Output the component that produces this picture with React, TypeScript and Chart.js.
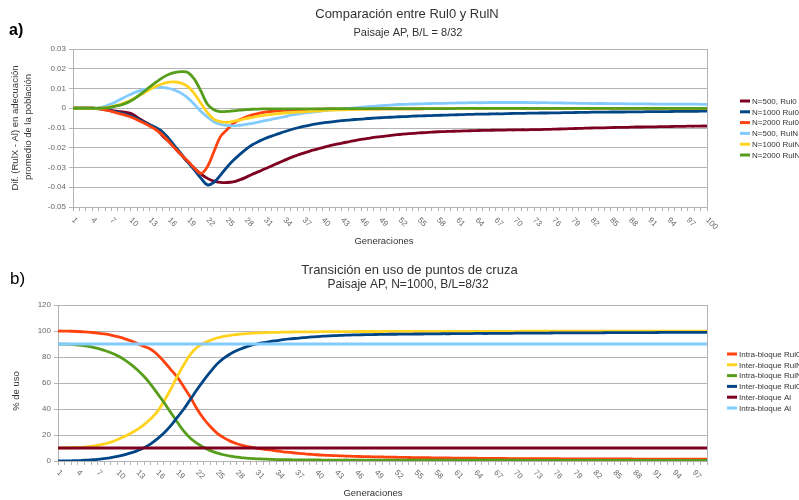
import React, { useEffect, useRef } from "react";
import { Chart, registerables } from "chart.js";

Chart.register(...registerables);

const FONT = "'Liberation Sans', Arial, sans-serif";
const GRID = "#b3b3b3";
const TICK_COLOR = "#666666";
const TEXT_COLOR = "#333333";

// ---- categories (generations) ----
const GENERATIONS_A = Array.from({ length: 100 }, (_, i) => String(i + 1));
const GENERATIONS_B = Array.from({ length: 99 }, (_, i) => String(i + 1));

// ---- panel a) ----
const A_LABELS = ["N=500, Rul0", "N=1000 Rul0", "N=2000 Rul0", "N=500, RulN", "N=1000 RulN", "N=2000 RulN"];
const A_COLORS = ["#7E0021", "#004586", "#FF420E", "#83CAFF", "#FFD320", "#579D1C"];

const A_N500_RUL0 = [
  0, 0, 0, 0, -0.0002, -0.0006, -0.0011, -0.0016, -0.002, -0.0026,
  -0.0045, -0.0065, -0.0085, -0.0105, -0.014, -0.017, -0.0205, -0.024, -0.0275, -0.0305,
  -0.0333, -0.0355, -0.0369, -0.0375, -0.0376, -0.0373, -0.0363, -0.035, -0.0334, -0.0321,
  -0.0306, -0.0292, -0.0278, -0.0264, -0.025, -0.0238, -0.0227, -0.0217, -0.0208, -0.0199,
  -0.019, -0.0183, -0.0176, -0.017, -0.0164, -0.0158, -0.0153, -0.0148, -0.0144, -0.014,
  -0.0136, -0.0133, -0.013, -0.0127, -0.0125, -0.0123, -0.0121, -0.0119, -0.0118, -0.0117,
  -0.0116, -0.0115, -0.0114, -0.0113, -0.0112, -0.0112, -0.0111, -0.0111, -0.011, -0.011,
  -0.0109, -0.0109, -0.0108, -0.0108, -0.0107, -0.0106, -0.0105, -0.0104, -0.0103, -0.0102,
  -0.0101, -0.01, -0.0099, -0.0099, -0.0098, -0.0097, -0.0097, -0.0096, -0.0095, -0.0095,
  -0.0094, -0.0094, -0.0093, -0.0093, -0.0092, -0.0092, -0.0091, -0.0091, -0.009, -0.009,
];
const A_N1000_RUL0 = [
  0, 0, 0, 0, -0.0002, -0.0007, -0.0013, -0.002, -0.0028, -0.0038,
  -0.0052, -0.0068, -0.0083, -0.0099, -0.012, -0.0155, -0.0195, -0.0235, -0.0275, -0.0315,
  -0.0355, -0.0388, -0.0375, -0.034, -0.03, -0.0265, -0.0235, -0.0208, -0.0185, -0.0168,
  -0.0153, -0.0141, -0.013, -0.0119, -0.0109, -0.01, -0.0092, -0.0085, -0.0079, -0.0074,
  -0.007, -0.0066, -0.0063, -0.006, -0.0057, -0.0055, -0.0052, -0.005, -0.0048, -0.0046,
  -0.0045, -0.0043, -0.0042, -0.004, -0.0039, -0.0038, -0.0037, -0.0036, -0.0035, -0.0034,
  -0.0033, -0.0032, -0.0031, -0.003, -0.003, -0.0029, -0.0028, -0.0028, -0.0027, -0.0026,
  -0.0026, -0.0025, -0.0025, -0.0024, -0.0024, -0.0023, -0.0023, -0.0022, -0.0022, -0.0021,
  -0.0021, -0.002, -0.002, -0.002, -0.0019, -0.0019, -0.0019, -0.0018, -0.0018, -0.0018,
  -0.0017, -0.0017, -0.0017, -0.0017, -0.0016, -0.0016, -0.0016, -0.0016, -0.0015, -0.0015,
];
const A_N2000_RUL0 = [
  0, 0, 0, 0, -0.0003, -0.0009, -0.0016, -0.0025, -0.0034, -0.0044,
  -0.0058, -0.0074, -0.0091, -0.011, -0.0135, -0.017, -0.0205, -0.0238, -0.027, -0.0305,
  -0.033, -0.0295, -0.022, -0.0145, -0.011, -0.0078, -0.0058, -0.0044, -0.0034, -0.0026,
  -0.002, -0.0016, -0.0013, -0.0011, -0.0009, -0.0008, -0.0007, -0.0006, -0.0005, -0.0005,
  -0.0004, -0.0004, -0.0004, -0.0004, -0.0004, -0.0003, -0.0003, -0.0003, -0.0003, -0.0003,
  -0.0003, -0.0003, -0.0003, -0.0003, -0.0003, -0.0002, -0.0002, -0.0002, -0.0002, -0.0002,
  -0.0002, -0.0002, -0.0002, -0.0002, -0.0002, -0.0002, -0.0002, -0.0002, -0.0002, -0.0002,
  -0.0001, -0.0001, -0.0001, -0.0001, -0.0001, -0.0001, -0.0001, -0.0001, -0.0001, -0.0001,
  -0.0001, -0.0001, -0.0001, -0.0001, -0.0001, -0.0001, -0.0001, -0.0001, -0.0001, -0.0001,
  -0.0001, -0.0001, -0.0001, -0.0001, -0.0001, -0.0001, -0.0001, -0.0001, -0.0001, -0.0001,
];
const A_N500_RULN = [
  0, 0, 0, 0, 0.0002, 0.001, 0.0022, 0.0038, 0.0055, 0.007,
  0.0084, 0.0094, 0.0101, 0.0105, 0.0105, 0.01, 0.009, 0.0074, 0.005, 0.0018,
  -0.0017, -0.0045, -0.0068, -0.0081, -0.0087, -0.0089, -0.0087, -0.0082, -0.0076, -0.007,
  -0.0063, -0.0056, -0.005, -0.0043, -0.0035, -0.003, -0.0025, -0.0021, -0.0017, -0.0013,
  -0.001, -0.0007, -0.0004, -0.0001, 0.0002, 0.0005, 0.0008, 0.001, 0.0013, 0.0015,
  0.0017, 0.0019, 0.002, 0.0021, 0.0022, 0.0023, 0.0024, 0.0025, 0.0025, 0.0026,
  0.0027, 0.0027, 0.0028, 0.0028, 0.0028, 0.0029, 0.0029, 0.0029, 0.0029, 0.0029,
  0.0029, 0.0029, 0.0028, 0.0028, 0.0028, 0.0027, 0.0027, 0.0026, 0.0026, 0.0025,
  0.0025, 0.0024, 0.0024, 0.0024, 0.0023, 0.0023, 0.0023, 0.0022, 0.0022, 0.0022,
  0.0022, 0.0021, 0.0021, 0.0021, 0.0021, 0.0021, 0.0021, 0.0021, 0.002, 0.002,
];
const A_N1000_RULN = [
  0, 0, 0, 0, 0, 0.0003, 0.0008, 0.0016, 0.0027, 0.0041,
  0.0058, 0.0076, 0.0095, 0.0112, 0.0124, 0.0132, 0.0133, 0.0126, 0.0108, 0.0072,
  0.0024, -0.0022, -0.0055, -0.0068, -0.0071, -0.0067, -0.006, -0.0052, -0.0046, -0.004,
  -0.0035, -0.0031, -0.0027, -0.0024, -0.0022, -0.002, -0.0018, -0.0016, -0.0014, -0.0012,
  -0.001, -0.0009, -0.0008, -0.0007, -0.0006, -0.0005, -0.0005, -0.0004, -0.0004, -0.0003,
  -0.0003, -0.0003, -0.0003, -0.0003, -0.0003, -0.0002, -0.0002, -0.0002, -0.0002, -0.0002,
  -0.0002, -0.0002, -0.0002, -0.0002, -0.0002, -0.0002, -0.0002, -0.0002, -0.0002, -0.0002,
  -0.0001, -0.0001, -0.0001, -0.0001, -0.0001, -0.0001, -0.0001, -0.0001, -0.0001, -0.0001,
  -0.0001, -0.0001, -0.0001, -0.0001, -0.0001, -0.0001, -0.0001, -0.0001, -0.0001, -0.0001,
  -0.0001, -0.0001, -0.0001, -0.0001, -0.0001, -0.0001, -0.0001, -0.0001, -0.0001, -0.0001,
];
const A_N2000_RULN = [
  0, 0, 0, 0, 0, 0.0002, 0.0006, 0.0013, 0.0022, 0.0037,
  0.0058, 0.0082, 0.0108, 0.0133, 0.0155, 0.0172, 0.0182, 0.0185, 0.018, 0.0145,
  0.0085, 0.002, -0.0008, -0.0017, -0.0016, -0.0013, -0.001, -0.0007, -0.0005, -0.0004,
  -0.0003, -0.0003, -0.0003, -0.0003, -0.0003, -0.0003, -0.0003, -0.0003, -0.0003, -0.0003,
  -0.0002, -0.0002, -0.0002, -0.0002, -0.0002, -0.0002, -0.0002, -0.0002, -0.0002, -0.0002,
  -0.0002, -0.0002, -0.0002, -0.0002, -0.0002, -0.0002, -0.0002, -0.0002, -0.0002, -0.0002,
  -0.0001, -0.0001, -0.0001, -0.0001, -0.0001, -0.0001, -0.0001, -0.0001, -0.0001, -0.0001,
  -0.0001, -0.0001, -0.0001, -0.0001, -0.0001, -0.0001, -0.0001, -0.0001, -0.0001, -0.0001,
  -0.0001, -0.0001, -0.0001, -0.0001, -0.0001, -0.0001, -0.0001, -0.0001, -0.0001, -0.0001,
  -0.0001, -0.0001, -0.0001, -0.0001, -0.0001, -0.0001, -0.0001, -0.0001, -0.0001, -0.0001,
];

// ---- panel b) ----
const B_LABELS = ["Intra-bloque Rul0", "Inter-bloque RulN", "Intra-bloque RulN", "Inter-bloque Rul0", "Inter-bloque Al", "Intra-bloque Al"];
const B_COLORS = ["#FF420E", "#FFD320", "#579D1C", "#004586", "#7E0021", "#83CAFF"];

const B_INTRA_RUL0 = [
  100, 99.9, 99.8, 99.6, 99.3, 98.9, 98.4, 97.7, 96.8, 95.6,
  94.2, 92.4, 90.3, 88.2, 86, 82, 76.5, 70.5, 64.5, 57,
  49, 40, 32.5, 26.5, 21.5, 18, 15.3, 13.3, 11.8, 10.8,
  9.8, 9.1, 8.5, 7.8, 7.1, 6.6, 6.1, 5.6, 5.2, 4.8,
  4.5, 4.3, 4.1, 3.9, 3.7, 3.55, 3.4, 3.3, 3.2, 3.1,
  3.0, 2.9, 2.8, 2.7, 2.65, 2.6, 2.5, 2.45, 2.4, 2.3,
  2.25, 2.2, 2.15, 2.1, 2.05, 2.0, 2.0, 1.95, 1.9, 1.9,
  1.85, 1.85, 1.8, 1.8, 1.75, 1.75, 1.7, 1.7, 1.7, 1.65,
  1.65, 1.6, 1.6, 1.6, 1.55, 1.55, 1.55, 1.5, 1.5, 1.5,
  1.45, 1.45, 1.45, 1.4, 1.4, 1.4, 1.4, 1.35, 1.35,
];
const B_INTER_RULN = [
  10, 10.1, 10.2, 10.4, 10.7, 11.2, 12, 13.1, 14.5, 16.5,
  18.8, 21.3, 24.3, 28, 32.5, 38, 46, 55, 65, 74,
  82, 87.5, 90.5, 92.8, 94.6, 95.8, 96.7, 97.3, 97.8, 98.2,
  98.5, 98.7, 98.9, 99, 99.1, 99.2, 99.3, 99.3, 99.4, 99.4,
  99.5, 99.5, 99.5, 99.5, 99.5, 99.6, 99.6, 99.6, 99.6, 99.6,
  99.7, 99.7, 99.7, 99.7, 99.7, 99.7, 99.7, 99.7, 99.7, 99.7,
  99.7, 99.7, 99.7, 99.7, 99.7, 99.7, 99.7, 99.7, 99.7, 99.7,
  99.8, 99.8, 99.8, 99.8, 99.8, 99.8, 99.8, 99.8, 99.8, 99.8,
  99.8, 99.8, 99.8, 99.8, 99.8, 99.8, 99.8, 99.8, 99.8, 99.8,
  99.8, 99.8, 99.8, 99.8, 99.8, 99.8, 99.8, 99.8, 99.8,
];
const B_INTRA_RULN = [
  90, 89.9, 89.7, 89.2, 88.6, 87.8, 86.6, 85.1, 83.3, 81,
  78, 74.3, 70, 65, 59, 52, 45, 37.5, 30, 23,
  17.5, 13.5, 10.5, 8, 6.2, 4.8, 3.7, 3, 2.4, 2,
  1.7, 1.5, 1.3, 1.1, 1.0, 0.95, 0.9, 0.85, 0.8, 0.8,
  0.75, 0.75, 0.75, 0.75, 0.75, 0.7, 0.7, 0.7, 0.7, 0.7,
  0.65, 0.65, 0.65, 0.65, 0.65, 0.6, 0.6, 0.6, 0.6, 0.6,
  0.6, 0.6, 0.6, 0.6, 0.6, 0.6, 0.6, 0.6, 0.6, 0.6,
  0.55, 0.55, 0.55, 0.55, 0.55, 0.55, 0.55, 0.55, 0.55, 0.55,
  0.5, 0.5, 0.5, 0.5, 0.5, 0.5, 0.5, 0.5, 0.5, 0.5,
  0.5, 0.5, 0.5, 0.5, 0.5, 0.5, 0.5, 0.5, 0.5,
];
const B_INTER_RUL0 = [
  0, 0.05, 0.15, 0.3, 0.6, 0.9, 1.3, 1.9, 2.6, 3.5,
  4.7, 6.2, 8, 10.2, 13.2, 17, 21.5, 27, 33.5, 40,
  47.5, 55, 62, 68.5, 74.5, 79, 82.3, 85, 87, 88.7,
  90, 91, 91.9, 92.6, 93.3, 93.9, 94.4, 94.9, 95.3, 95.7,
  96, 96.3, 96.5, 96.7, 96.9, 97, 97.1, 97.2, 97.3, 97.4,
  97.5, 97.5, 97.6, 97.6, 97.7, 97.7, 97.8, 97.8, 97.9, 97.9,
  98, 98, 98, 98.1, 98.1, 98.1, 98.2, 98.2, 98.2, 98.3,
  98.3, 98.3, 98.4, 98.4, 98.4, 98.5, 98.5, 98.5, 98.5, 98.6,
  98.6, 98.6, 98.6, 98.7, 98.7, 98.7, 98.7, 98.8, 98.8, 98.8,
  98.8, 98.9, 98.9, 98.9, 98.9, 98.9, 99, 99, 99,
];
const B_INTER_AL = [
  10, 10, 10, 10, 10, 10, 10, 10, 10, 10,
  10, 10, 10, 10, 10, 10, 10, 10, 10, 10,
  10, 10, 10, 10, 10, 10, 10, 10, 10, 10,
  10, 10, 10, 10, 10, 10, 10, 10, 10, 10,
  10, 10, 10, 10, 10, 10, 10, 10, 10, 10,
  10, 10, 10, 10, 10, 10, 10, 10, 10, 10,
  10, 10, 10, 10, 10, 10, 10, 10, 10, 10,
  10, 10, 10, 10, 10, 10, 10, 10, 10, 10,
  10, 10, 10, 10, 10, 10, 10, 10, 10, 10,
  10, 10, 10, 10, 10, 10, 10, 10, 10,
];
const B_INTRA_AL = [
  90, 90, 90, 90, 90, 90, 90, 90, 90, 90,
  90, 90, 90, 90, 90, 90, 90, 90, 90, 90,
  90, 90, 90, 90, 90, 90, 90, 90, 90, 90,
  90, 90, 90, 90, 90, 90, 90, 90, 90, 90,
  90, 90, 90, 90, 90, 90, 90, 90, 90, 90,
  90, 90, 90, 90, 90, 90, 90, 90, 90, 90,
  90, 90, 90, 90, 90, 90, 90, 90, 90, 90,
  90, 90, 90, 90, 90, 90, 90, 90, 90, 90,
  90, 90, 90, 90, 90, 90, 90, 90, 90, 90,
  90, 90, 90, 90, 90, 90, 90, 90, 90,
];

type TextItem = { text: string; x: number; y: number; font: string; color?: string; align?: CanvasTextAlign; rotate?: boolean };
type Decor = {
  labelEvery: number;
  labelOffset: number;
  legendX: number;
  legendY: number;
  legendStep: number;
  texts: TextItem[];
};

const Y_AXIS_WIDTH = 50;

const decorPlugin = {
  id: "decor",
  afterDraw(chart: any, _args: any, opts: Decor) {
    const { ctx, chartArea: ca, scales } = chart;
    const xs = scales.x;
    ctx.save();
    // right frame line
    ctx.strokeStyle = GRID;
    ctx.lineWidth = 1;
    const rx = Math.round(ca.right) + 0.5;
    ctx.beginPath();
    ctx.moveTo(rx, ca.top);
    ctx.lineTo(rx, ca.bottom);
    ctx.stroke();

    // rotated category labels
    ctx.fillStyle = TICK_COLOR;
    ctx.font = `8px ${FONT}`;
    ctx.textAlign = "left";
    ctx.textBaseline = "middle";
    const labels: string[] = chart.data.labels;
    labels.forEach((lab, i) => {
      if (i % opts.labelEvery !== 0) return;
      const px = xs.getPixelForTick(i);
      ctx.save();
      ctx.translate(px, ca.bottom + opts.labelOffset);
      ctx.rotate(Math.PI / 4);
      ctx.fillText(lab, 0, 0);
      ctx.restore();
    });

    // free texts
    for (const t of opts.texts) {
      ctx.save();
      ctx.font = t.font;
      ctx.fillStyle = t.color || TEXT_COLOR;
      ctx.textAlign = t.align || "center";
      ctx.textBaseline = "middle";
      ctx.translate(t.x, t.y);
      if (t.rotate) ctx.rotate(-Math.PI / 2);
      ctx.fillText(t.text, 0, 0);
      ctx.restore();
    }

    // legend
    ctx.font = `8px ${FONT}`;
    ctx.textAlign = "left";
    ctx.textBaseline = "middle";
    chart.data.datasets.forEach((ds: any, i: number) => {
      const y = opts.legendY + i * opts.legendStep;
      ctx.strokeStyle = ds.borderColor;
      ctx.lineWidth = 3;
      ctx.beginPath();
      ctx.moveTo(opts.legendX, y);
      ctx.lineTo(opts.legendX + 10, y);
      ctx.stroke();
      ctx.fillStyle = TEXT_COLOR;
      ctx.fillText(ds.label, opts.legendX + 12, y + 0.5);
    });
    ctx.restore();
  },
};

type PanelProps = {
  top: number;
  labels: string[];
  names: string[];
  colors: string[];
  values: number[][];
  yMin: number;
  yMax: number;
  yStep: number;
  padding: { left: number; right: number; top: number; bottom: number };
  decor: Decor;
};

function Panel(props: PanelProps) {
  const ref = useRef<HTMLCanvasElement>(null);
  useEffect(() => {
    const n = props.values.length;
    const chart = new Chart(ref.current as HTMLCanvasElement, {
      type: "line",
      data: {
        labels: props.labels,
        datasets: props.values.map((vals, i) => ({
          label: props.names[i],
          data: vals,
          borderColor: props.colors[i],
          backgroundColor: props.colors[i],
          borderWidth: 2.8,
          pointRadius: 0,
          tension: 0.4,
          fill: false,
          order: n - i,
        })),
      },
      options: {
        responsive: false,
        animation: false,
        devicePixelRatio: 1,
        events: [],
        layout: { padding: { ...props.padding, left: props.padding.left - Y_AXIS_WIDTH } },
        plugins: {
          legend: { display: false },
          title: { display: false },
          tooltip: { enabled: false },
          // @ts-ignore
          decor: props.decor,
        },
        scales: {
          x: {
            type: "category",
            offset: false,
            ticks: { display: false },
            grid: { display: true, drawOnChartArea: false, drawTicks: true, tickLength: 4, color: GRID },
            border: { display: true, color: GRID },
            afterFit: (s: any) => {
              s.height = 0;
            },
          },
          y: {
            min: props.yMin,
            max: props.yMax,
            ticks: { stepSize: props.yStep, color: TICK_COLOR, font: { family: FONT, size: 8 }, padding: 3 },
            grid: { color: GRID, drawTicks: true, tickLength: 4 },
            border: { display: true, color: GRID },
            afterFit: (s: any) => {
              s.width = Y_AXIS_WIDTH;
            },
          },
        },
      },
      plugins: [decorPlugin as any],
    });
    return () => chart.destroy();
  }, []);
  return (
    <canvas
      ref={ref}
      width={799}
      height={250}
      style={{ position: "absolute", left: 0, top: props.top, width: 799, height: 250 }}
    />
  );
}

export default function App() {
  return (
    <div style={{ position: "absolute", left: 0, top: 0, width: 799, height: 500, background: "#ffffff", overflow: "hidden" }}>
      <Panel
        top={0}
        labels={GENERATIONS_A}
        names={A_LABELS}
        colors={A_COLORS}
        values={[A_N500_RUL0, A_N1000_RUL0, A_N2000_RUL0, A_N500_RULN, A_N1000_RULN, A_N2000_RULN]}
        yMin={-0.05}
        yMax={0.03}
        yStep={0.01}
        padding={{ left: 73, right: 92, top: 49, bottom: 43 }}
        decor={{
          labelEvery: 3,
          labelOffset: 12,
          legendX: 740,
          legendY: 101,
          legendStep: 10.8,
          texts: [
            { text: "a)", x: 9, y: 31, font: `bold 16px ${FONT}`, color: "#000000", align: "left" },
            { text: "Comparación entre Rul0 y RulN", x: 407, y: 14, font: `13px ${FONT}` },
            { text: "Paisaje AP, B/L = 8/32", x: 408, y: 33, font: `11px ${FONT}` },
            { text: "Dif. (RulX - Al) en adecuación", x: 15.5, y: 128, font: `9.5px ${FONT}`, rotate: true },
            { text: "promedio de la población", x: 28, y: 127, font: `9.5px ${FONT}`, rotate: true },
            { text: "Generaciones", x: 384, y: 241.5, font: `9.5px ${FONT}` },
          ],
        }}
      />
      <Panel
        top={250}
        labels={GENERATIONS_B}
        names={B_LABELS}
        colors={B_COLORS}
        values={[B_INTRA_RUL0, B_INTER_RULN, B_INTRA_RULN, B_INTER_RUL0, B_INTER_AL, B_INTRA_AL]}
        yMin={0}
        yMax={120}
        yStep={20}
        padding={{ left: 58, right: 92, top: 55, bottom: 39 }}
        decor={{
          labelEvery: 3,
          labelOffset: 10.5,
          legendX: 727,
          legendY: 104,
          legendStep: 10.8,
          texts: [
            { text: "b)", x: 10, y: 29, font: `17px ${FONT}`, color: "#000000", align: "left" },
            { text: "Transición en uso de puntos de cruza", x: 409.5, y: 20, font: `13px ${FONT}` },
            { text: "Paisaje AP, N=1000, B/L=8/32", x: 408, y: 35, font: `12px ${FONT}` },
            { text: "% de uso", x: 16, y: 141, font: `9.5px ${FONT}`, rotate: true },
            { text: "Generaciones", x: 373, y: 243, font: `9.5px ${FONT}` },
          ],
        }}
      />
    </div>
  );
}
